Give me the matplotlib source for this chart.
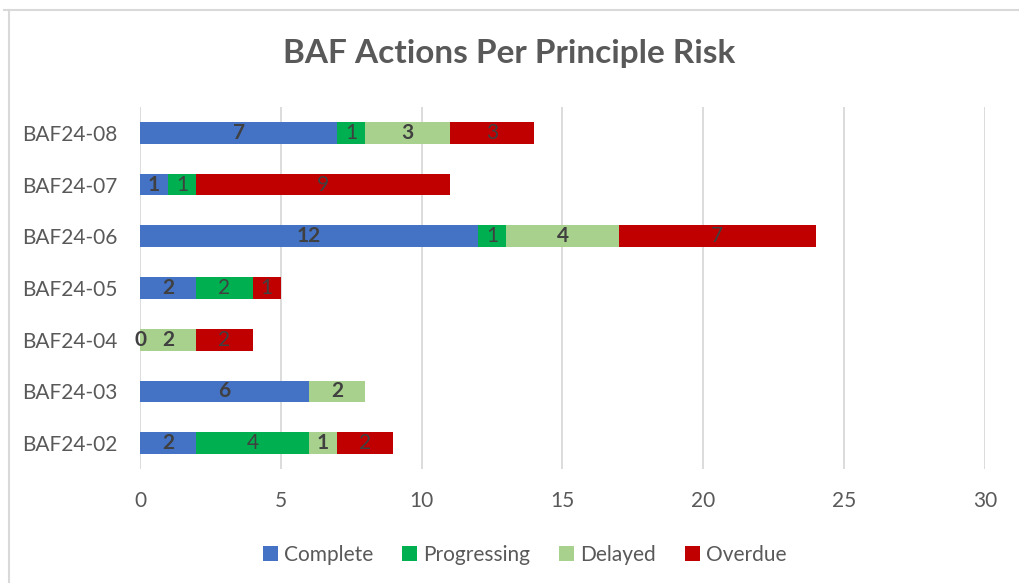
import matplotlib.pyplot as plt
from matplotlib.lines import Line2D
import numpy as np

plt.rcParams['font.family'] = ['Lato', 'DejaVu Sans']

risks = ["BAF24-02", "BAF24-03", "BAF24-04", "BAF24-05", "BAF24-06", "BAF24-07", "BAF24-08"]
# None = blank cell (no segment, no label)
complete = [2, 6, 0, 2, 12, 1, 7]
progressing = [4, None, None, 2, 1, 1, 1]
delayed = [1, 2, 2, None, 4, None, 3]
overdue = [2, None, 2, 1, 7, 9, 3]

series = [
    ("Complete", complete, "#4472C4", "bold"),
    ("Progressing", progressing, "#00B050", "normal"),
    ("Delayed", delayed, "#A9D18E", "bold"),
    ("Overdue", overdue, "#C00000", "normal"),
]

fig = plt.figure(figsize=(10.19, 5.83), dpi=100)
ax = fig.add_axes([0.1374, 0.1955, 0.8292, 0.621])

y = np.arange(len(risks))
left = np.zeros(len(risks))
for name, vals, color, weight in series:
    v = np.array([0 if x is None else x for x in vals], dtype=float)
    bars = ax.barh(y, v, left=left, height=0.42, color=color, label=name)
    labels = ["" if x is None else str(x) for x in vals]
    ax.bar_label(bars, labels=labels, label_type="center", fontsize=15,
                 color="#404040", fontweight=weight)
    left += v

ax.set_xlim(0, 30)
ax.set_ylim(-0.5, 6.5)
ax.set_xticks(range(0, 31, 5))
ax.set_yticks(y)
ax.set_yticklabels(risks)
ax.tick_params(axis="both", length=0, labelsize=15, labelcolor="#595959")
ax.tick_params(axis="x", pad=16)
ax.tick_params(axis="y", pad=16)
ax.grid(axis="x", color="#D9D9D9", linewidth=1.3)
ax.set_axisbelow(True)
for s in ax.spines.values():
    s.set_visible(False)

fig.text(0.5, 1 - 53 / 583, "BAF Actions Per Principle Risk", ha="center", va="center",
         fontsize=24, fontweight="bold", color="#595959")

fig.legend(loc="center", bbox_to_anchor=(0.515, 1 - 555 / 583), ncol=4, frameon=False,
           fontsize=15, handlelength=0.7, handleheight=0.7, handletextpad=0.3,
           columnspacing=1.4, labelcolor="#595959")

# outer chart border (top and left visible)
fig.add_artist(Line2D([4 / 1019, 1], [1 - 10 / 583] * 2, color="#D9D9D9", linewidth=1.5))
fig.add_artist(Line2D([9 / 1019] * 2, [0, 1 - 10 / 583], color="#D9D9D9", linewidth=1.5))

fig.savefig("out.png", dpi=100)
